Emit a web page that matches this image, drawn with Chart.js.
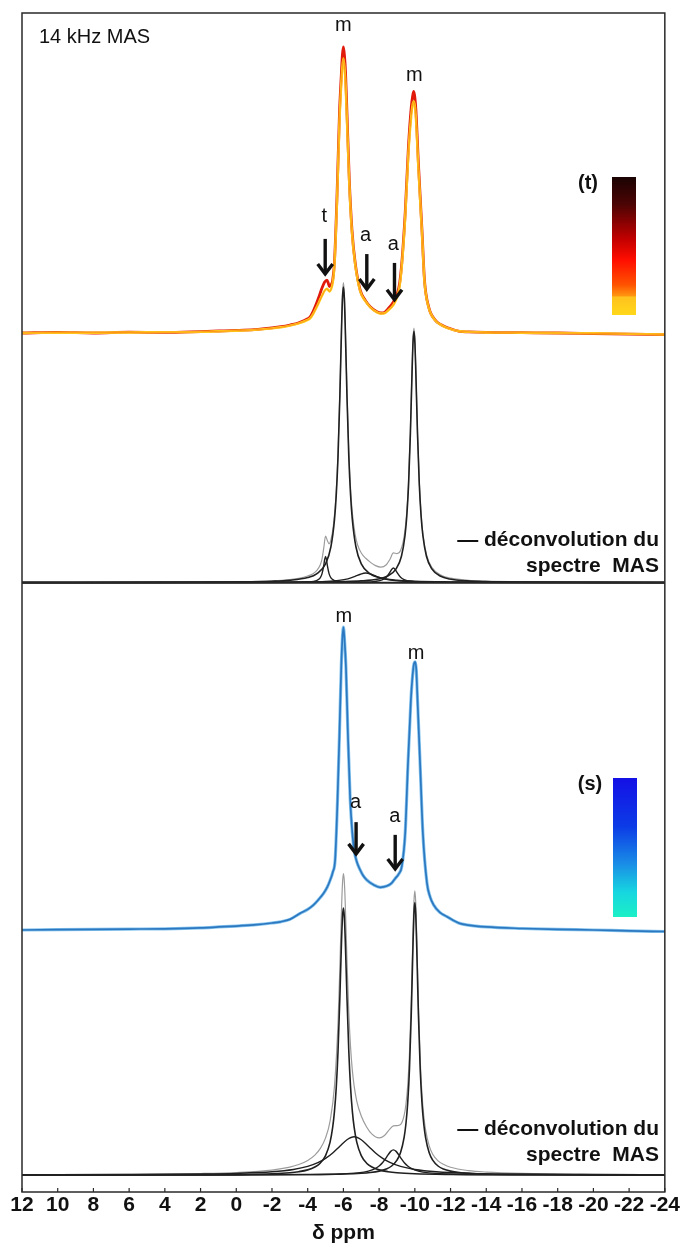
<!DOCTYPE html>
<html>
<head>
<meta charset="utf-8">
<script src="https://cdn.jsdelivr.net/npm/chart.js@4.4.1/dist/chart.umd.min.js"></script>
<style>
  html, body { margin: 0; padding: 0; background: #fff; }
  canvas { display: block; }
</style>
</head>
<body>
<canvas id="nmr" width="683" height="1247"></canvas>
<script>
// chemical shift axis, ppm (drawn right to left)
const ppmTicks = [12, 10, 8, 6, 4, 2, 0, -2, -4, -6, -8, -10, -12, -14, -16, -18, -20, -22, -24];

// upper panel, series (t): experimental spectra, first (yellow) and last (red) acquisition
const topShift = [12, 10, 8, 6, 4, 2, 1, 0, -1, -2, -2.5, -3, -3.5, -4, -4.15, -4.3, -4.5, -4.65, -4.8, -4.95,
  -5.08, -5.15, -5.22, -5.3, -5.4, -5.5, -5.64, -5.78, -5.88, -5.94, -6.0, -6.06, -6.12, -6.2, -6.33, -6.48, -6.66, -6.94, -7.22, -7.5,
  -7.88, -8.1, -8.3, -8.53, -8.8, -9.03, -9.15, -9.27, -9.46, -9.64, -9.8, -9.88, -9.94, -10.0, -10.06, -10.2, -10.4, -10.54, -10.77, -11.14,
  -11.5, -11.8, -12.5, -13, -14, -16, -18, -20, -22, -24];
const topLate = [0, 0.2, 0, 0.3, 0.2, 0.5, 0.7, 0.9, 1.2, 1.8, 2.2, 2.8, 3.6, 5.0, 5.7, 7.5, 10.5, 13, 15.7, 17.8,
  18.5, 17.5, 16.2, 16.8, 18.5, 25, 47.7, 77, 90, 97, 100, 97, 91, 77, 53.5, 36, 24.5, 15, 11.5, 9.2,
  7.4, 7.0, 7.2, 8.7, 10.9, 14, 17.5, 24.5, 42, 65, 79, 83, 84.5, 82.5, 78, 59.4, 36, 18.5, 9.2, 4.5,
  2.8, 1.9, 0.6, 0.4, 0.2, 0.1, 0, -0.2, -0.4, -0.6];
const topEarly = [0, 0.1, 0.1, 0.2, 0.3, 0.4, 0.6, 0.8, 1.1, 1.6, 2.0, 2.6, 3.4, 4.6, 5.2, 6.6, 9.0, 11, 13, 14.8,
  15.5, 15, 14.5, 15.2, 17.5, 24, 46, 74, 87, 93, 96, 93, 87, 74, 52, 35, 24, 14.6, 11.2, 9.0,
  7.2, 6.8, 6.9, 8.0, 9.8, 13, 16.5, 23.5, 40.5, 63, 76, 80, 81, 79.5, 75, 57.5, 35, 18, 9.0, 4.4,
  2.7, 1.8, 0.6, 0.4, 0.2, 0.1, 0, -0.1, -0.3, -0.5];

// upper panel deconvolution: [ppm, intensity]
const topFitM1 = [[12, 0], [2, 0.1], [0, 0.19], [-2, 0.42], [-3, 0.75], [-4, 1.66], [-4.5, 2.9], [-5, 6.3], [-5.3, 12.1], [-5.5, 21.3],
  [-5.6, 29.7], [-5.7, 42.9], [-5.8, 62.8], [-5.9, 87], [-5.95, 96.4], [-6, 100], [-6.05, 96.4], [-6.1, 87], [-6.2, 62.8], [-6.3, 42.9],
  [-6.4, 29.7], [-6.5, 21.3], [-6.7, 12.1], [-7, 6.3], [-7.5, 2.9], [-8, 1.66], [-9, 0.75], [-10, 0.42], [-12, 0.19], [-14, 0.1], [-24, 0]];
const topFitM2 = [[12, 0], [4, 0.03], [0, 0.05], [-4, 0.14], [-6, 0.3], [-7, 0.55], [-7.95, 1.2], [-8.45, 2.1], [-8.95, 4.6], [-9.25, 8.9],
  [-9.45, 15.9], [-9.55, 22.5], [-9.65, 33.2], [-9.75, 50.2], [-9.85, 72.4], [-9.9, 81.5], [-9.95, 85], [-10, 81.5], [-10.05, 72.4], [-10.15, 50.2],
  [-10.25, 33.2], [-10.35, 22.5], [-10.45, 15.9], [-10.65, 8.9], [-10.95, 4.6], [-11.45, 2.1], [-11.95, 1.2], [-12.95, 0.54], [-13.95, 0.3], [-16, 0.14], [-20, 0.05], [-24, 0]];
const topFitT = [[12, 0], [-3, 0.04], [-4, 0.17], [-4.5, 0.64], [-4.7, 1.57], [-4.8, 2.9], [-4.9, 5.8], [-4.95, 7.8], [-5, 8.8], [-5.05, 7.8],
  [-5.1, 5.8], [-5.2, 2.9], [-5.3, 1.57], [-5.5, 0.64], [-6, 0.17], [-7, 0.04], [-24, 0]];
const topFitBroad = [[12, 0], [-2, 0.07], [-4, 0.18], [-5, 0.36], [-5.75, 0.71], [-6.25, 1.25], [-6.65, 2.05], [-6.95, 2.8], [-7.25, 3.2], [-7.55, 2.8],
  [-7.85, 2.05], [-8.25, 1.25], [-8.75, 0.71], [-9.5, 0.36], [-10.5, 0.18], [-12.5, 0.07], [-24, 0]];
const topFitA = [[12, 0], [-5, 0.03], [-7, 0.13], [-7.8, 0.4], [-8.2, 0.98], [-8.4, 1.76], [-8.6, 3.4], [-8.7, 4.4], [-8.8, 4.9], [-8.9, 4.4],
  [-9, 3.4], [-9.2, 1.76], [-9.4, 0.98], [-9.8, 0.4], [-10.6, 0.13], [-12.6, 0.03], [-24, 0]];
const topFitSum = [[12, 0.05], [6, 0.08], [2, 0.17], [0, 0.29], [-2, 0.6], [-3, 1.0], [-3.5, 1.4], [-4, 2.2], [-4.3, 3.0], [-4.5, 4.0],
  [-4.7, 5.9], [-4.8, 7.9], [-4.9, 11.7], [-5, 15.7], [-5.1, 14.2], [-5.2, 13.1], [-5.3, 14.4], [-5.45, 19.9], [-5.6, 31.1], [-5.7, 44.2],
  [-5.8, 64.1], [-5.9, 88.4], [-5.95, 97.8], [-6, 101.5], [-6.05, 97.9], [-6.1, 88.6], [-6.2, 64.5], [-6.3, 44.8], [-6.4, 31.8], [-6.5, 23.6],
  [-6.65, 16.5], [-6.8, 12.6], [-7, 10.0], [-7.25, 8.2], [-7.5, 6.9], [-7.8, 5.7], [-8.1, 5.2], [-8.4, 6.0], [-8.6, 7.8], [-8.8, 10.0],
  [-9, 9.8], [-9.2, 10.8], [-9.4, 15.6], [-9.55, 24.1], [-9.65, 34.6], [-9.75, 51.5], [-9.85, 73.5], [-9.9, 82.6], [-9.95, 86.1], [-10, 82.5],
  [-10.05, 73.4], [-10.15, 51.1], [-10.25, 34.0], [-10.35, 23.3], [-10.45, 16.6], [-10.65, 9.5], [-10.95, 5.1], [-11.5, 2.4], [-12, 1.5], [-13, 0.76],
  [-14, 0.47], [-16, 0.24], [-20, 0.1], [-24, 0.05]];

// lower panel, series (s): experimental spectrum
const lowShift = [12, 10, 8, 6, 4, 2, 1, 0, -1, -2, -2.47, -3, -3.58, -4, -4.33, -4.6, -4.89, -5.1, -5.26, -5.4,
  -5.54, -5.67, -5.78, -5.88, -5.94, -6.0, -6.06, -6.14, -6.25, -6.38, -6.5, -6.6, -6.75, -6.94, -7.1, -7.31, -7.69, -8.06, -8.43, -8.7,
  -8.9, -9.1, -9.27, -9.46, -9.61, -9.78, -9.86, -9.94, -10.02, -10.08, -10.15, -10.3, -10.45, -10.68, -10.85, -11.05, -11.4, -11.8, -12.5, -13,
  -14, -16, -18, -20, -22, -24];
const lowSpec = [0, 0.1, 0.2, 0.3, 0.4, 0.7, 1.0, 1.3, 1.7, 2.3, 2.7, 3.5, 5.5, 6.8, 8.3, 10, 12.1, 14.2, 16.5, 19,
  23.5, 43, 65, 87, 96, 100, 96, 87, 65, 43, 32, 26.4, 22.5, 19.8, 18, 16.5, 14.9, 14.1, 14.5, 15.5,
  17, 18.5, 21, 32, 54, 76, 83, 87.5, 88.5, 86, 76, 54, 32, 15.5, 11, 8.3, 5.8, 4.4, 2.2, 1.6,
  1.0, 0.5, 0.2, 0, -0.3, -0.5];

// lower panel deconvolution: [ppm, intensity]
const lowFitM1 = [[12, 0.02], [4, 0.08], [2, 0.12], [0, 0.22], [-2, 0.49], [-3, 0.86], [-3.5, 1.24], [-4, 1.92], [-4.4, 2.97], [-4.7, 4.43],
  [-5, 7.27], [-5.25, 12.2], [-5.4, 17.9], [-5.5, 23.9], [-5.6, 32.9], [-5.7, 46.6], [-5.8, 66.2], [-5.85, 77.7], [-5.9, 88.7], [-5.95, 96.9],
  [-6, 100], [-6.05, 96.9], [-6.1, 88.7], [-6.15, 77.7], [-6.2, 66.2], [-6.3, 46.6], [-6.4, 32.9], [-6.5, 23.9], [-6.6, 17.9], [-6.75, 12.2],
  [-7, 7.27], [-7.3, 4.43], [-7.6, 2.97], [-8, 1.92], [-8.5, 1.24], [-9, 0.86], [-10, 0.49], [-12, 0.22], [-14, 0.12], [-16, 0.08], [-24, 0.02]];
const lowFitM2 = [[12, 0.01], [4, 0.03], [0, 0.06], [-4, 0.16], [-6, 0.37], [-7, 0.65], [-7.5, 0.93], [-8, 1.45], [-8.4, 2.25], [-8.7, 3.37],
  [-9, 5.56], [-9.2, 8.4], [-9.4, 14.1], [-9.5, 19.1], [-9.6, 27], [-9.7, 39.8], [-9.8, 60.2], [-9.85, 73.4], [-9.9, 86.9], [-9.95, 97.8],
  [-10, 102], [-10.05, 97.8], [-10.1, 86.9], [-10.15, 73.4], [-10.2, 60.2], [-10.3, 39.8], [-10.4, 27], [-10.5, 19.1], [-10.6, 14.1], [-10.8, 8.4],
  [-11, 5.56], [-11.3, 3.37], [-11.6, 2.25], [-12, 1.45], [-12.5, 0.93], [-13, 0.65], [-14, 0.37], [-16, 0.16], [-20, 0.06], [-24, 0.03]];
const lowFitBroad = [[12, 0.08], [6, 0.17], [2, 0.37], [0, 0.62], [-2, 1.21], [-3.2, 2.07], [-4, 3.21], [-4.6, 4.7], [-5, 6.2], [-5.4, 8.24],
  [-5.8, 10.8], [-6.2, 13.2], [-6.6, 14.3], [-7, 13.2], [-7.4, 10.8], [-7.8, 8.24], [-8.2, 6.2], [-8.6, 4.7], [-9.2, 3.21], [-10, 2.07],
  [-11.2, 1.21], [-13.2, 0.62], [-15.2, 0.37], [-19.2, 0.17], [-24, 0.09]];
const lowFitA = [[12, 0], [0, 0.05], [-3.8, 0.13], [-5.8, 0.36], [-6.8, 0.78], [-7.4, 1.46], [-7.8, 2.49], [-8, 3.38], [-8.2, 4.7], [-8.35, 6.02],
  [-8.5, 7.52], [-8.65, 8.85], [-8.8, 9.4], [-8.95, 8.85], [-9.1, 7.52], [-9.25, 6.02], [-9.4, 4.7], [-9.6, 3.38], [-9.8, 2.49], [-10.2, 1.46],
  [-10.8, 0.78], [-11.8, 0.36], [-13.8, 0.13], [-16.8, 0.05], [-24, 0]];
const lowFitSum = [[12, 0.12], [6, 0.26], [2, 0.56], [0, 0.94], [-2, 1.86], [-3, 2.96], [-3.5, 3.92], [-4, 5.43], [-4.4, 7.45], [-4.7, 9.87],
  [-5, 13.9], [-5.25, 20.1], [-5.5, 33.3], [-5.7, 57.4], [-5.8, 77.7], [-5.9, 100.9], [-5.95, 109.4], [-6, 112.9], [-6.05, 110.1], [-6.1, 102.2],
  [-6.2, 80.3], [-6.3, 61.2], [-6.4, 47.9], [-6.5, 39.2], [-6.6, 33.4], [-6.75, 27.6], [-7, 22.1], [-7.3, 18.0], [-7.6, 15.3], [-8, 13.9],
  [-8.3, 14.8], [-8.6, 17.2], [-8.8, 18.4], [-9, 18.5], [-9.2, 18.9], [-9.4, 22.3], [-9.5, 26.4], [-9.6, 33.5], [-9.7, 45.7], [-9.8, 65.5],
  [-9.9, 91.8], [-9.95, 102.5], [-10, 106.4], [-10.05, 102.1], [-10.1, 91.0], [-10.2, 64.0], [-10.3, 43.3], [-10.4, 30.3], [-10.5, 22.2], [-10.6, 17.0],
  [-10.8, 11.0], [-11, 7.8], [-11.3, 5.3], [-11.6, 4.0], [-12, 2.9], [-13, 1.65], [-14, 1.1], [-16, 0.61], [-20, 0.28], [-24, 0.17]];

// labels on the spectra: text, ppm, y axis, intensity
const peakLabels = [
  ['m', -6.0, 'yTop', 107.5], ['m', -9.97, 'yTop', 90], ['t', -4.93, 'yTop', 40.7],
  ['a', -7.24, 'yTop', 34.1], ['a', -8.79, 'yTop', 30.9],
  ['m', -6.03, 'yLow', 103.6], ['m', -10.07, 'yLow', 91.4],
  ['a', -6.68, 'yLow', 42.2], ['a', -8.88, 'yLow', 37.4]
];
// arrows: ppm, y axis, tail intensity, head intensity
const arrows = [
  [-4.98, 'yTop', 32.9, 20.3], [-7.31, 'yTop', 27.6, 15.0], [-8.86, 'yTop', 24.5, 11.3],
  [-6.71, 'yLow', 35.6, 24.8], [-8.9, 'yLow', 31.4, 19.8]
];

const FONT = '"Liberation Sans", Arial, sans-serif';
const INK = '#111';
const frame = { left: 22, right: 665, top: 13, bottom: 1192, split: 583 };
// baseline pixel and pixels per intensity unit of each trace group
const bands = {
  yTop: { base: 333, unit: 2.86 },
  yTopFit: { base: 582.5, unit: 2.955 },
  yLow: { base: 930, unit: 3.03 },
  yLowFit: { base: 1175, unit: 2.67 }
};

const zip = (xs, ys) => xs.map((x, i) => ({ x, y: ys[i] }));
const pairs = (arr) => arr.map(([x, y]) => ({ x, y }));

function trace(data, axis, color, width, order) {
  return {
    data, yAxisID: axis, borderColor: color, borderWidth: width, order,
    pointRadius: 0, fill: false, cubicInterpolationMode: 'monotone'
  };
}

const FIT = '#202020';
const datasets = [
  trace(zip(topShift, topLate), 'yTop', '#e11a0c', 2.8, 12),
  trace(zip(topShift, topEarly), 'yTop', '#ffd21c', 2.4, 11),
  trace(zip(topShift, topEarly), 'yTop', '#ff9418', 1, 10),
  trace(pairs(topFitSum), 'yTopFit', '#9c9c9c', 1.2, 9),
  trace(pairs(topFitM1), 'yTopFit', FIT, 1.6, 8),
  trace(pairs(topFitM2), 'yTopFit', FIT, 1.6, 8),
  trace(pairs(topFitT), 'yTopFit', FIT, 1.4, 8),
  trace(pairs(topFitBroad), 'yTopFit', FIT, 1.4, 8),
  trace(pairs(topFitA), 'yTopFit', FIT, 1.4, 8),
  trace(zip(lowShift, lowSpec), 'yLow', '#86c4ee', 3.2, 7),
  trace(zip(lowShift, lowSpec), 'yLow', '#2c78c0', 1.7, 6),
  trace(pairs(lowFitSum), 'yLowFit', '#9c9c9c', 1.2, 5),
  trace(pairs(lowFitM1), 'yLowFit', FIT, 1.6, 4),
  trace(pairs(lowFitM2), 'yLowFit', FIT, 1.6, 4),
  trace(pairs(lowFitBroad), 'yLowFit', FIT, 1.4, 4),
  trace(pairs(lowFitA), 'yLowFit', FIT, 1.4, 4)
];

const yScales = {};
Object.entries(bands).forEach(([id, b]) => {
  yScales[id] = {
    type: 'linear', display: false,
    min: -(frame.bottom - b.base) / b.unit,
    max: (b.base - frame.top) / b.unit
  };
});

function drawArrow(ctx, px, y0, y1) {
  ctx.lineWidth = 3.4;
  ctx.lineJoin = 'miter';
  ctx.lineCap = 'butt';
  ctx.beginPath();
  ctx.moveTo(px, y0);
  ctx.lineTo(px, y1 - 3);
  ctx.stroke();
  ctx.beginPath();
  ctx.moveTo(px - 7.5, y1 - 11);
  ctx.lineTo(px, y1 - 1);
  ctx.lineTo(px + 7.5, y1 - 11);
  ctx.stroke();
}

function colorBar(ctx, x, y, w, h, stops) {
  const g = ctx.createLinearGradient(0, y, 0, y + h);
  stops.forEach(([p, c]) => g.addColorStop(p, c));
  ctx.fillStyle = g;
  ctx.fillRect(x, y, w, h);
}

const decor = {
  id: 'decor',
  beforeDraw(chart) {
    const { ctx } = chart;
    ctx.save();
    ctx.fillStyle = '#fff';
    ctx.fillRect(0, 0, chart.width, chart.height);
    ctx.restore();
  },
  afterDraw(chart) {
    const { ctx, chartArea: a, scales } = chart;
    const xs = scales.x;
    ctx.save();

    // frame, panel split and inward ticks
    ctx.strokeStyle = '#2a2a2a';
    ctx.lineWidth = 1.5;
    ctx.strokeRect(a.left, a.top, a.right - a.left, a.bottom - a.top);
    ctx.beginPath();
    ctx.moveTo(a.left, frame.split);
    ctx.lineTo(a.right, frame.split);
    ctx.stroke();
    ctx.lineWidth = 1.2;
    xs.ticks.forEach((t) => {
      const px = xs.getPixelForValue(t.value);
      ctx.beginPath();
      ctx.moveTo(px, a.bottom);
      ctx.lineTo(px, a.bottom - 4);
      ctx.stroke();
    });

    // peak letters and arrows
    ctx.fillStyle = INK;
    ctx.strokeStyle = INK;
    ctx.font = `20px ${FONT}`;
    ctx.textAlign = 'center';
    ctx.textBaseline = 'middle';
    peakLabels.forEach(([txt, ppm, axis, v]) => {
      ctx.fillText(txt, xs.getPixelForValue(ppm), scales[axis].getPixelForValue(v));
    });
    arrows.forEach(([ppm, axis, from, to]) => {
      drawArrow(ctx, xs.getPixelForValue(ppm), scales[axis].getPixelForValue(from), scales[axis].getPixelForValue(to));
    });

    // field label
    ctx.textAlign = 'left';
    ctx.textBaseline = 'alphabetic';
    ctx.fillText('14 kHz MAS', 39, 43);

    // colour scales of the two series
    colorBar(ctx, 612, 177, 24, 138, [[0, '#1a0303'], [0.2, '#4d0404'], [0.45, '#c20000'], [0.6, '#ff0d00'],
      [0.78, '#ff5200'], [0.86, '#ff9410'], [0.87, '#ffc21e'], [1, '#ffd81a']]);
    colorBar(ctx, 613, 778, 24, 139, [[0, '#1410e6'], [0.35, '#0c3ce6'], [0.62, '#1a8ee6'], [0.82, '#16d6e0'], [1, '#1cf0c6']]);

    ctx.fillStyle = INK;
    ctx.font = `bold 20px ${FONT}`;
    ctx.textAlign = 'center';
    ctx.textBaseline = 'middle';
    ctx.fillText('(t)', 588, 183);
    ctx.fillText('(s)', 590, 784);

    // fit legend in each panel
    ctx.font = `bold 21px ${FONT}`;
    ctx.textAlign = 'right';
    ctx.textBaseline = 'alphabetic';
    [0, 589].forEach((dy) => {
      ctx.fillText('\u2014 déconvolution du', 659, 546 + dy);
      ctx.fillText('spectre  MAS', 659, 572 + dy);
    });
    ctx.restore();
  }
};

new Chart(document.getElementById('nmr'), {
  type: 'line',
  data: { datasets },
  options: {
    responsive: false,
    animation: false,
    events: [],
    layout: { padding: { left: frame.left, right: 683 - frame.right, top: frame.top, bottom: 0 } },
    scales: {
      x: {
        type: 'linear',
        reverse: true,
        min: -24,
        max: 12,
        afterBuildTicks: (scale) => { scale.ticks = ppmTicks.map((value) => ({ value })); },
        afterFit: (scale) => { scale.height = 1247 - frame.bottom; },
        grid: { display: false, drawTicks: false },
        border: { display: false },
        ticks: {
          autoSkip: false, maxRotation: 0, minRotation: 0, padding: 3, color: INK,
          font: { family: FONT, size: 21, weight: 'bold', lineHeight: 1 },
          callback: (value) => String(value)
        },
        title: {
          display: true, text: 'δ ppm', color: INK,
          font: { family: FONT, size: 21, weight: 'bold', lineHeight: 1 },
          padding: { top: 0, bottom: 3 }
        }
      },
      ...yScales
    },
    plugins: {
      legend: { display: false },
      tooltip: { enabled: false }
    }
  },
  plugins: [decor]
});
</script>
</body>
</html>
